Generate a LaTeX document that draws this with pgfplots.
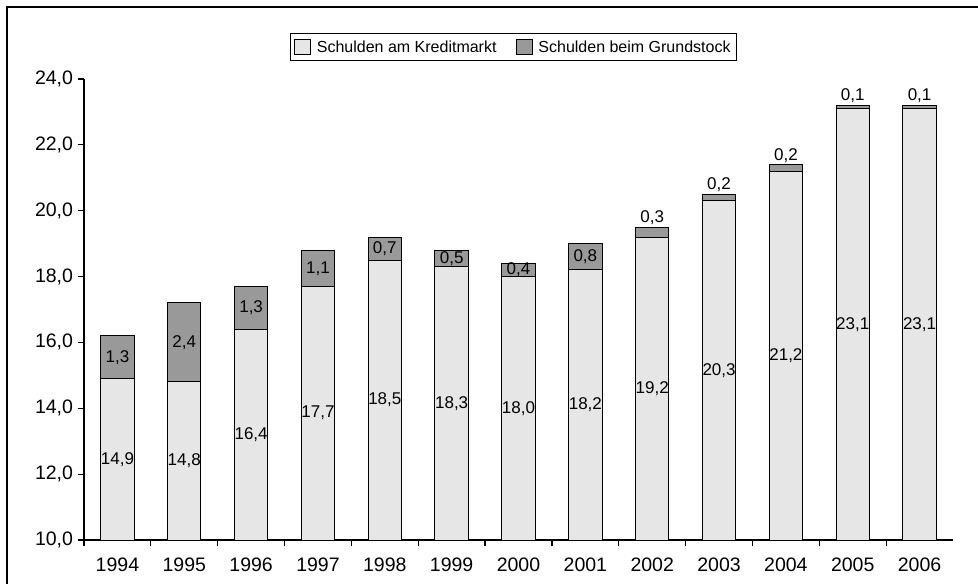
\documentclass[border=0pt]{standalone}
\usepackage{fontspec}
\setmainfont{Liberation Sans}
\usepackage{pgfplots}
\usepackage{pgfplotstable}
\pgfplotsset{compat=1.18}
\definecolor{lightbar}{HTML}{E6E6E6}
\definecolor{darkbar}{HTML}{999999}
\pgfkeys{/pgf/number format/.cd, use comma, fixed, fixed zerofill, precision=1, assume math mode=true}
\pgfplotstableread{
x  kredit grund
0  14.9   1.3
1  14.8   2.4
2  16.4   1.3
3  17.7   1.1
4  18.5   0.7
5  18.3   0.5
6  18.0   0.4
7  18.2   0.8
8  19.2   0.3
9  20.3   0.2
10 21.2   0.2
11 23.1   0.1
12 23.1   0.1
}\datatable
\begin{document}
\begin{tikzpicture}[x=1pt,y=1pt]
\path[use as bounding box] (0,0) rectangle (978,584);
\draw[line width=1.3pt] (7,0) -- (7,577) -- (978,577);
\pgfplotsset{common/.style={
  at={(84pt,44pt)}, anchor=south west,
  scale only axis, width=869pt, height=461pt,
  xmin=-0.5, xmax=12.5, ymin=10, ymax=24}}
\begin{axis}[common,
  ybar stacked, bar width=33.4pt,
  ytick={10,12,...,24},
  xtick={-0.5,0.5,...,11.5}, xticklabels={},
  extra x ticks={0,1,2,3,4,5,6,7,8,9,10,11,12},
  extra x tick labels={1994,1995,1996,1997,1998,1999,2000,2001,2002,2003,2004,2005,2006},
  extra x tick style={major tick length=0pt},
  axis x line*=bottom, axis y line*=left,
  axis line style={line width=1.2pt, -},
  tick style={line width=1.2pt, black},
  tick align=outside, major tick length=6.5pt,
  yticklabel style={font=\fontsize{19.5}{21}\selectfont, xshift=-1pt},
  xticklabel style={font=\fontsize{19.5}{21}\selectfont, yshift=-14pt},
  legend style={at={(0.494,1.069)}, anchor=center, draw=black, line width=0.8pt,
    font=\fontsize{16}{18}\selectfont,
    /tikz/every even column/.append style={column sep=17pt},
    inner xsep=4pt, inner ysep=5pt},
  legend columns=2, legend cell align=left,
]
\addplot[fill=lightbar, draw=black, line width=1pt,
  legend image code/.code={\draw[fill=lightbar,draw=black,line width=0.8pt] (0pt,-7.5pt) rectangle (16pt,7.5pt); \path (20pt,0pt);}]
  table[x=x, y=kredit] {\datatable};
\addlegendentry{Schulden am Kreditmarkt}
\addplot[fill=darkbar, draw=black, line width=1pt,
  legend image code/.code={\draw[fill=darkbar,draw=black,line width=0.8pt] (0pt,-7.5pt) rectangle (16pt,7.5pt); \path (20pt,0pt);}]
  table[x=x, y=grund] {\datatable};
\addlegendentry{Schulden beim Grundstock}
\node[anchor=west, font=\bfseries\fontsize{20}{22}\selectfont] at (axis description cs:-0.0587,1.060) {Mrd €};
\end{axis}
\begin{axis}[common, hide axis, clip=false,
  every node near coord/.style={font=\fontsize{17}{19}\selectfont, anchor=center, inner sep=0pt}]
\addplot[draw=none, mark=none, nodes near coords, point meta=explicit]
  table[x=x, y expr={(\thisrow{kredit}+10)/2}, meta=kredit] {\datatable};
\addplot[draw=none, mark=none, nodes near coords, point meta=explicit]
  table[x=x, y expr={\thisrow{grund}>0.35 ? \thisrow{kredit}+\thisrow{grund}/2 : \thisrow{kredit}+\thisrow{grund}+0.28}, meta=grund] {\datatable};
\end{axis}
\end{tikzpicture}
\end{document}
